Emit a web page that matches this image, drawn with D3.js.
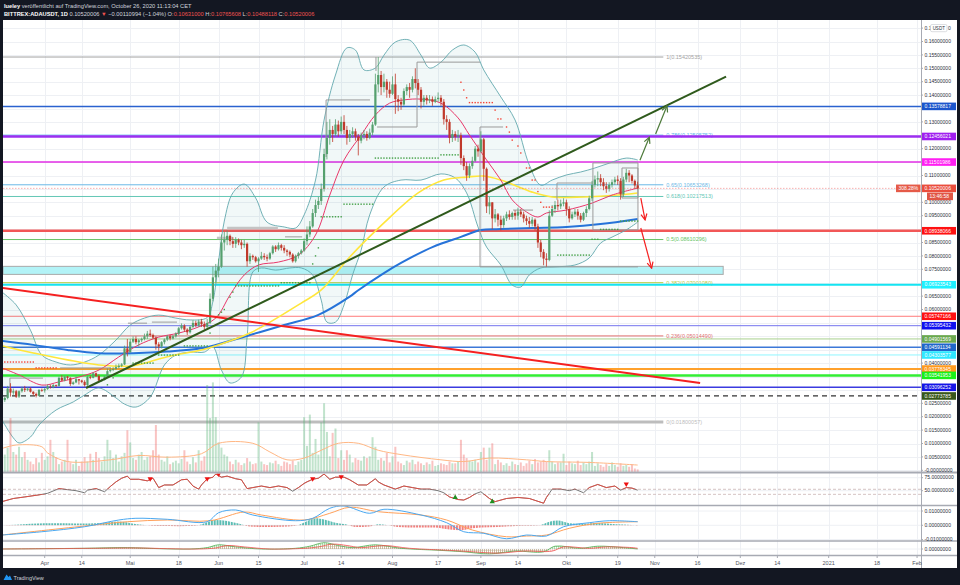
<!DOCTYPE html>
<html lang="de">
<head>
<meta charset="utf-8">
<script src="https://d3js.org/d3.v7.min.js"></script>
<style>
  body { margin: 0; background: #131722; overflow: hidden; }
  svg { display: block; font-family: "Liberation Sans", Arial, sans-serif; }
</style>
</head>
<body>
<script>
// BITTREX:ADAUSDT 1D, candles from Mar 17 2020 (index 0) to Oct 26 2020
const firstDay = Date.UTC(2020, 2, 17)
const firstOpen = 0.0255
const closes = [
  .0262, .0270, .0305, .0290, .0295, .0275, .0295, .0305, .0300, .0305,
  .0293, .0285, .0278, .0300, .0298, .0303, .0313, .0310, .0318, .0315,
  .0345, .0335, .0350, .0345, .0322, .0328, .0340, .0335, .0330, .0318,
  .0348, .0345, .0362, .0352, .0335, .0337, .0350, .0370, .0375, .0378,
  .0385, .0390, .0395, .0455, .0440, .0480, .0490, .0478, .0485, .0490,
  .0500, .0510, .0505, .0495, .0470, .0462, .0478, .0488, .0500, .0492,
  .0500, .0510, .0530, .0540, .0525, .0515, .0535, .0550, .0540, .0555,
  .0545, .0535, .0550, .0640, .0720, .0745, .0760, .0850, .0860, .0875,
  .0855, .0845, .0860, .0850, .0840, .0845, .0780, .0800, .0795, .0780,
  .0790, .0800, .0795, .0790, .0810, .0835, .0825, .0840, .0830, .0820,
  .0815, .0805, .0780, .0800, .0810, .0820, .0855, .0880, .0910, .0960,
  .0990, .1005, .1050, .1180, .1240, .1270, .1255, .1290, .1265, .1300,
  .1270, .1240, .1255, .1265, .1245, .1230, .1250, .1255, .1240, .1260,
  .1290, .1440, .1475, .1430, .1450, .1420, .1405, .1440, .1385, .1375,
  .1365, .1415, .1430, .1420, .1460, .1445, .1420, .1375, .1390, .1380,
  .1385, .1375, .1385, .1390, .1375, .1310, .1300, .1240, .1255, .1245,
  .1250, .1165, .1135, .1100, .1135, .1155, .1200, .1190, .1235, .1125,
  .0985, .1000, .0940, .0955, .0935, .0915, .0940, .0955, .0945, .0960,
  .0950, .0965, .0955, .0940, .0930, .0920, .0935, .0910, .0850, .0815,
  .0790, .0785, .0950, .0975, .0990, .0985, .0995, .1000, .0975, .0940,
  .0955, .0965, .0950, .0935, .0960, .0975, .1015, .1065, .1085, .1090,
  .1075, .1060, .1050, .1065, .1075, .1085, .1080, .1030, .1085, .1110,
  .1100, .1080, .1063, .1052
]
const highs = [
  .0270, .0275, .0315, .0325, .0305, .0300, .0298, .0312, .0315, .0310,
  .0310, .0295, .0290, .0303, .0305, .0308, .0320, .0320, .0322, .0320,
  .0350, .0355, .0352, .0352, .0347, .0332, .0350, .0340, .0338, .0336,
  .0352, .0355, .0365, .0365, .0358, .0342, .0353, .0380, .0385, .0385,
  .0395, .0398, .0400, .0465, .0490, .0490, .0500, .0500, .0490, .0495,
  .0510, .0520, .0525, .0510, .0500, .0478, .0482, .0492, .0505, .0505,
  .0505, .0515, .0535, .0548, .0545, .0530, .0540, .0560, .0558, .0562,
  .0565, .0555, .0565, .0660, .0760, .0770, .0790, .0880, .0890, .0895,
  .0880, .0870, .0870, .0865, .0860, .0860, .0850, .0810, .0805, .0800,
  .0795, .0815, .0810, .0805, .0815, .0840, .0840, .0850, .0845, .0840,
  .0825, .0820, .0810, .0805, .0815, .0825, .0865, .0910, .0930, .0975,
  .1010, .1020, .1070, .1200, .1300, .1310, .1285, .1310, .1305, .1320,
  .1325, .1285, .1270, .1280, .1275, .1255, .1260, .1270, .1265, .1275,
  .1300, .1480, .1542, .1490, .1480, .1460, .1450, .1470, .1480, .1400,
  .1390, .1425, .1440, .1445, .1470, .1500, .1460, .1430, .1400, .1400,
  .1400, .1395, .1395, .1410, .1400, .1385, .1325, .1310, .1270, .1265,
  .1270, .1260, .1175, .1150, .1145, .1170, .1210, .1215, .1265, .1240,
  .1130, .1020, .1000, .0975, .0960, .0950, .0950, .0965, .0970, .0965,
  .0970, .0980, .0975, .0965, .0950, .0945, .0945, .0940, .0920, .0860,
  .0825, .0810, .0970, .0990, .1005, .1010, .1010, .1015, .1010, .0985,
  .0965, .0975, .0975, .0960, .0965, .0985, .1025, .1080, .1100, .1115,
  .1105, .1090, .1075, .1075, .1085, .1095, .1100, .1090, .1095, .1125,
  .1120, .1105, .1085, .1077
]
const lows = [
  .0250, .0255, .0265, .0275, .0282, .0270, .0270, .0290, .0292, .0295,
  .0290, .0278, .0272, .0276, .0293, .0290, .0300, .0305, .0306, .0310,
  .0313, .0332, .0332, .0338, .0315, .0318, .0325, .0320, .0325, .0312,
  .0312, .0340, .0343, .0348, .0330, .0330, .0335, .0348, .0365, .0370,
  .0375, .0380, .0385, .0393, .0425, .0440, .0475, .0470, .0462, .0478,
  .0485, .0490, .0498, .0490, .0450, .0445, .0455, .0470, .0482, .0485,
  .0488, .0495, .0505, .0525, .0518, .0505, .0510, .0530, .0535, .0535,
  .0535, .0525, .0530, .0545, .0630, .0700, .0720, .0755, .0820, .0840,
  .0840, .0830, .0830, .0840, .0825, .0830, .0760, .0770, .0785, .0775,
  .0740, .0785, .0785, .0780, .0785, .0805, .0815, .0820, .0820, .0810,
  .0800, .0795, .0775, .0775, .0790, .0805, .0815, .0840, .0870, .0905,
  .0945, .0975, .0990, .1040, .1160, .1215, .1225, .1245, .1245, .1255,
  .1255, .1215, .1225, .1240, .1230, .1175, .1220, .1235, .1230, .1235,
  .1250, .1285, .1410, .1400, .1410, .1390, .1390, .1400, .1330, .1340,
  .1345, .1360, .1400, .1390, .1410, .1425, .1400, .1350, .1360, .1365,
  .1370, .1360, .1370, .1375, .1360, .1290, .1270, .1220, .1225, .1230,
  .1225, .1140, .1120, .1080, .1090, .1125, .1150, .1170, .1185, .1080,
  .0960, .0955, .0900, .0925, .0910, .0895, .0905, .0930, .0935, .0935,
  .0935, .0935, .0945, .0925, .0915, .0905, .0910, .0895, .0830, .0795,
  .0765, .0760, .0780, .0945, .0960, .0970, .0975, .0985, .0950, .0925,
  .0935, .0945, .0935, .0925, .0930, .0945, .0970, .1005, .1055, .1060,
  .1060, .1045, .1035, .1040, .1055, .1065, .1065, .1010, .1020, .1075,
  .1075, .1070, .1050, .1049
]
const volumes = [
  25, 20, 28, 62, 23, 20, 29, 17, 23, 14,  12, 9, 16, 11, 22, 14, 18, 37, 23, 17,
  9, 12, 14, 37, 11, 9, 14, 7, 12, 17,  12, 21, 14, 23, 16, 12, 18, 37, 25, 16,
  20, 12, 18, 22, 48, 34, 16, 14, 20, 23,  14, 17, 18, 25, 54, 20, 14, 12, 18, 9,
  11, 13, 10, 15, 25, 12, 9, 17, 11, 25,  13, 18, 100, 62, 103, 63, 34, 28, 20, 18,
  12, 9, 14, 11, 8, 10, 16, 12, 9, 10,  57, 12, 9, 8, 11, 10, 13, 9, 7, 12,
  11, 9, 13, 8, 12, 14, 63, 30, 66, 22,  38, 20, 57, 79, 46, 18, 45, 50, 16, 25,
  14, 25, 20, 11, 16, 14, 13, 18, 16, 18,  40, 29, 14, 16, 13, 22, 11, 18, 29, 12,
  10, 8, 13, 11, 14, 9, 12, 10, 8, 11,  9, 13, 7, 8, 10, 9, 8, 12, 10, 10,
  12, 37, 20, 16, 13, 12, 14, 11, 23, 28,  14, 28, 33, 9, 14, 11, 8, 10, 7, 12,
  9, 8, 11, 7, 10, 13, 9, 15, 11, 12,  14, 12, 25, 12, 9, 11, 11, 21, 8, 12,
  10, 9, 13, 8, 11, 9, 12, 23, 7, 10,  8, 6, 9, 7, 11, 8, 6, 10, 7, 8,
  6, 9, 4, 3
]
const volumeMa = [[0,27],[5,31],[14,29],[16,22],[23,12],[38,14],[48,19],[58,17],[70,21],[76,33],[88,33],[94,23],[100,14],[106,16],[112,25],[118,33],[125,33],[132,25],[140,20],[154,14],[162,12],[171,16],[184,14],[191,12],[206,11],[223,8]]

// indicator lines: [day index, price]
const bbUpper = [[0,.0665],[5,.0617],[10,.0523],[14,.0430],[19,.0404],[24,.0393],[29,.0404],[34,.0430],[40,.0486],[45,.0542],[50,.0568],[55,.0579],[61,.0568],[66,.0561],[72,.0570],[74,.0630],[76,.0780],[78,.0930],[81,.1035],[85,.1068],[89,.1016],[93,.0926],[99,.0908],[103,.0904],[106,.0953],[110,.1083],[113,.1307],[117,.1475],[121,.1576],[124,.1568],[127,.1494],[131,.1501],[134,.1549],[138,.1598],[143,.1605],[147,.1549],[150,.1501],[154,.1523],[158,.1568],[162,.1587],[166,.1560],[169,.1494],[175,.1393],[180,.1307],[185,.1139],[189,.1064],[193,.1083],[198,.1102],[203,.1113],[208,.1128],[213,.1146],[219,.1165],[223,.1158]]
const bbLower = [[0,.0188],[4,.0121],[6,.0102],[10,.0124],[13,.0169],[19,.0225],[25,.0255],[29,.0281],[34,.0307],[40,.0270],[43,.0247],[47,.0236],[52,.0273],[57,.0393],[61,.0430],[66,.0441],[71,.0441],[74,.0460],[77,.0374],[80,.0326],[84,.0348],[86,.0497],[88,.0740],[91,.0755],[96,.0747],[101,.0755],[105,.0755],[109,.0729],[112,.0635],[114,.0553],[117,.0553],[120,.0617],[123,.0729],[126,.0822],[129,.0953],[134,.1057],[140,.1083],[147,.1083],[154,.1106],[159,.1091],[163,.1035],[167,.0908],[170,.0833],[175,.0766],[179,.0691],[182,.0684],[185,.0729],[189,.0755],[194,.0759],[201,.0766],[206,.0792],[210,.0848],[214,.0870],[219,.0897],[223,.0926]]
const emaFast = [[0,.0382],[6,.0356],[14,.0318],[20,.0330],[27,.0348],[34,.0374],[41,.0423],[48,.0468],[55,.0497],[62,.0512],[69,.0535],[75,.0568],[80,.0654],[85,.0729],[90,.0766],[97,.0777],[104,.0803],[110,.0878],[115,.1027],[120,.1158],[126,.1251],[131,.1326],[136,.1370],[141,.1382],[147,.1385],[154,.1370],[160,.1315],[164,.1251],[170,.1158],[175,.1083],[179,.1009],[184,.0964],[188,.0945],[191,.0960],[198,.0971],[207,.0997],[214,.1027],[223,.1053]]
const maMid = [[0,.0464],[11,.0438],[23,.0412],[34,.0393],[46,.0390],[58,.0424],[70,.0449],[74,.0461],[87,.0512],[105,.0624],[112,.0673],[122,.0796],[134,.0923],[146,.1035],[155,.1083],[163,.1094],[169,.1098],[175,.1083],[186,.1038],[193,.1020],[204,.1020],[216,.1027],[223,.1035]]
const maSlow = [[0,.0483],[11,.0468],[23,.0449],[34,.0437],[46,.0437],[58,.0443],[70,.0455],[75,.0468],[87,.0505],[99,.0542],[111,.0580],[122,.0648],[125,.0672],[134,.0736],[140,.0774],[151,.0833],[161,.0871],[168,.0897],[175,.0900],[186,.0904],[198,.0908],[210,.0919],[223,.0938]]

// parabolic SAR: flat runs [from, to, price, side] and single dots [day, price, side]; side 1 = below, -1 = above
const sarRuns = [[0,11,.0404,-1],[12,19,.0382,-1],[46,53,.0400,1],[55,62,.0430,1],[64,72,.0464,1],[82,97,.0688,1],[98,108,.0700,1],[112,119,.0946,1],[120,130,.0993,1],[131,153,.1165,1],[154,160,.1177,1],[164,172,.1372,-1],[190,193,.0982,-1],[195,206,.0803,1],[207,209,.0862,1],[210,216,.0899,1],[217,223,.0930,1]]
const sarDots = [[37,.0319,1],[39,.0345,1],[73,.0512,1],[75,.0570,1],[76,.0580,1],[77,.0590,1],[78,.0600,1],[80,.0646,1],[81,.0665,1],[109,.0770,1],[110,.0800,1],[111,.0830,1],[161,.1448,-1],[162,.1419,-1],[163,.1390,-1],[173,.1344,-1],[174,.1311,-1],[175,.1311,-1],[177,.1281,-1],[178,.1262,-1],[179,.1232,-1],[181,.1210,-1],[182,.1184,-1],[184,.1128,-1],[185,.1128,-1],[186,.1083,-1],[187,.1083,-1],[188,.1040,-1],[189,.1000,-1]]

// lower panes
const rsi = [[0,29],[4,35],[8,38],[13,42],[16,45],[20,54],[23,52],[26,50],[29,46],[30,51],[33,54],[36,48],[38,58],[40,67],[42,74],[44,78],[45,72],[48,72],[51,69],[53,74],[55,56],[57,61],[60,61],[63,71],[65,72],[67,59],[69,53],[70,61],[72,73],[74,76],[75,82],[77,76],[79,78],[82,73],[84,71],[86,54],[88,56],[91,59],[94,56],[97,59],[100,56],[102,49],[104,56],[106,64],[107,67],[109,72],[111,74],[113,82],[115,72],[117,76],[120,76],[122,71],[125,61],[128,61],[131,73],[132,67],[134,61],[138,53],[141,59],[144,56],[147,53],[150,53],[153,50],[155,46],[157,38],[160,33],[162,32],[164,37],[166,44],[168,48],[171,35],[173,29],[177,35],[181,37],[185,35],[190,26],[191,37],[193,53],[196,53],[199,50],[201,53],[204,46],[206,56],[209,62],[212,56],[215,59],[217,51],[219,56],[221,55],[223,51]]
const rsiBands = [52.7, 43]
const rsiSells = [[52,73],[72,73],[76,82],[109,73],[119,77],[219,63]]
const rsiBuys = [[159,37],[172,29]]
const macdLine = [[0,-.0068],[14,-.0045],[29,-.0010],[41,.0037],[47,.0049],[58,.0042],[72,.0025],[76,.0088],[82,.0107],[88,.0072],[103,.0032],[109,.0049],[115,.0119],[120,.0135],[129,.0084],[134,.0112],[147,.0072],[156,.0018],[162,-.0045],[169,-.0056],[177,-.0094],[184,-.0068],[191,-.0075],[197,-.0010],[206,.0018],[213,.0032],[223,.0025]]
const macdSignal = [[0,-.0068],[29,-.0005],[44,.0025],[58,.0037],[73,.0032],[85,.0093],[91,.0072],[106,.0037],[115,.0084],[122,.0126],[132,.0095],[147,.0072],[156,.0037],[165,-.0033],[177,-.0080],[184,-.0075],[191,-.0068],[199,-.0021],[209,.0014],[223,.0025]]
const macdHist = [[0,.0001],[5,.0003],[10,.0010],[15,.0014],[22,.0015],[30,.0012],[36,.0018],[41,.0026],[45,.0015],[50,.0002],[55,-.0005],[62,-.0006],[68,-.0003],[71,.0015],[75,.0037],[79,.0030],[83,.0012],[87,-.0008],[92,-.0012],[98,-.0010],[103,-.0003],[106,.0020],[110,.0049],[113,.0040],[117,.0018],[121,.0005],[124,-.0012],[129,-.0008],[132,.0008],[135,.0002],[139,-.0012],[146,-.0016],[152,-.0015],[157,-.0030],[161,-.0034],[165,-.0020],[171,-.0014],[177,-.0008],[183,-.0004],[188,-.0002],[192,.0025],[195,.0033],[199,.0015],[204,.0010],[209,.0018],[213,.0010],[218,.0005],[221,.0002],[223,-.0003]]
const oscA = [[0,0],[15,.0005],[29,.001],[44,.002],[55,.0005],[66,0],[72,.002],[76,.006],[82,.003],[91,0],[103,.001],[108,.004],[113,.009],[118,.005],[123,.002],[131,.006],[140,.001],[154,-.002],[162,-.004],[171,-.007],[180,-.003],[190,-.004],[194,.004],[203,.001],[209,.004],[218,.002],[223,0]]
const oscB = [[0,0],[18,.0005],[32,.001],[47,.0015],[58,.0005],[69,0],[75,.0015],[79,.005],[85,.003],[94,0],[106,.001],[111,.003],[116,.007],[121,.005],[126,.002],[134,.005],[143,.001],[157,-.002],[165,-.004],[174,-.006],[183,-.003],[193,-.003],[197,.003],[206,.001],[212,.003],[221,.002],[223,.001]]

// drawings
const levelPrices = [0.13578817, 0.12456021, 0.11501986, 0.08938066, 0.06923543, 0.05747166, 0.05395432, 0.04901569, 0.04591134, 0.04303577, 0.03778345, 0.03541953, 0.03096252, 0.02773785]
const levelLine = ["#2a62cf", "#9c2ff0", "#e22ee6", "#f25757", "#14e4f2", "#ff7b7b", "#7474ee", "#a8d08d", "#3c78d8", "#8ff6ff", "#ffa12c", "#33ee33", "#3b3be0", "#333333"]
const levelTag = ["#1c56cc", "#a020f0", "#ff1ff2", "#ff1111", "#1ef0ff", "#ff1111", "#1010f0", "#6aa84f", "#1f66c9", "#2ee8ff", "#ff9a1f", "#19f019", "#1414e6", "#38571a"]
const levelWidth = [1.5, 2.5, 1.5, 2.5, 2, 1, 1, 1, 1.5, 1, 2, 2.5, 1.5, 1.2]
const fibLevels = ["1", "0.786", "0.65", "0.618", "0.5", "0.382", "0.236", "0"]
const fibPrices = [0.15420535, 0.12505752, 0.10653268, 0.10217513, 0.08610296, 0.07001080, 0.05014490, 0.01800057]
const fibColors = ["#a3a3a3", "#5ab4ec", "#6bb8e6", "#63c7b5", "#66c466", "#b9cc45", "#e07070", "#bdbdbd"]
const fibEnd = 232
const zoneBox = [0, 253, 0.0731, 0.0761]
const trendUp = [[29.5, .0307], [254, .1469]]
const trendDown = [[0, .0681], [244.9, .0326]]
const arrowsUp = [[[223.8, .1157], [227.1, .1243]], [[229.3, .1255], [233.3, .1360]]]
const arrowsDown = [[[224.1, .1016], [225.6, .0934]], [[224.1, .0904], [227.9, .0754]]]
const rangeLines = [
  [[175.8,.1281],[167.7,.1281],[167.7,.0759],[223.1,.0759]],
  [[179.3,.0971],[186.3,.0971]],
  [[194.7,.1009],[194.7,.1072],[207.3,.1072]],
  [[207.3,.1147],[223.1,.1147],[223.1,.0897],[207.3,.0897],[207.3,.1147]],
  [[217.5,.1128],[223.1,.1128],[223.1,.1016],[217.5,.1016],[217.5,.1128]],
  [[129.1,.1382],[113.7,.1382],[113.7,.1169]],
  [[131.6,.1281],[145.6,.1281],[145.6,.1523],[167.7,.1523]],
  [[131.2,.1542],[131.2,.1490]],
  [[2.8,.0307],[2.8,.0344],[14.4,.0344]],
  [[20.4,.0382],[37.9,.0382]],
  [[44.2,.0549],[50.9,.0549]],
  [[52.6,.0553],[61.4,.0553]],
  [[99.3,.0871],[105.3,.0871]]
]
const rangeBars = [[[75.4,.0867],[81,.0867]], [[79,.0904],[96.8,.0904]]]

const lastPrice = 0.10520006
const timeTicks = [["2020-04-01","Apr"],["2020-04-14","14"],["2020-05-01","Mai"],["2020-05-18","18"],["2020-06-01","Jun"],["2020-06-15","15"],["2020-07-01","Jul"],["2020-07-14","14"],["2020-08-01","Aug"],["2020-08-17","17"],["2020-09-01","Sep"],["2020-09-14","14"],["2020-10-01","Okt"],["2020-10-19","19"],["2020-11-01","Nov"],["2020-11-16","16"],["2020-12-01","Dez"],["2020-12-14","14"],["2021-01-01","2021"],["2021-01-18","18"],["2021-02-01","Feb"]]
const priceTicks = d3.range(0, 0.1651, 0.005)

// ---- layout ----
const W = 960, H = 585
const L = 3, R = 921
const fmt = d3.format(".8f")

const x = d3.scaleUtc()
  .domain([new Date("2020-04-01T00:00:00Z"), new Date("2020-10-01T00:00:00Z")])
  .range([44.7, 566.4])
const xd = d => x(new Date(firstDay + d * 864e5))
const y = d3.scaleLinear().domain([0, 0.16]).range([470.3, 41.5])
const yv = d3.scaleLinear().domain([0, 100]).range([472, 385])
const yr = d3.scaleLinear().domain([50, 75]).range([490.7, 477.7])
const ym = d3.scaleLinear().domain([0, 0.01]).range([525.3, 511])
const yo = d3.scaleLinear().domain([0, 0.01]).range([549, 542])

const svg = d3.select("body").append("svg").attr("width", W).attr("height", H)
svg.append("rect").attr("width", W).attr("height", H).attr("fill", "#131722")
svg.append("rect").attr("x", L).attr("y", 20).attr("width", 957 - L).attr("height", 548).attr("fill", "#fff")

const defs = svg.append("defs")
function clip(id, y0, y1) {
  defs.append("clipPath").attr("id", id).append("rect")
    .attr("x", L).attr("y", y0).attr("width", R - L).attr("height", y1 - y0)
  return "url(#" + id + ")"
}
const mainClip = clip("cmain", 20, 472)
const rsiClip = clip("crsi", 473.5, 505)
const macdClip = clip("cmacd", 506, 540.5)
const oscClip = clip("cosc", 541.5, 555)

// grid
const grid = svg.append("g").attr("stroke", "#eef0f4").attr("stroke-width", 1)
timeTicks.forEach(t => {
  const xx = Math.round(x(new Date(t[0] + "T00:00:00Z"))) + 0.5
  grid.append("line").attr("x1", xx).attr("x2", xx).attr("y1", 20).attr("y2", 555)
})
priceTicks.forEach(p => grid.append("line").attr("x1", L).attr("x2", R)
  .attr("y1", Math.round(y(p)) + 0.5).attr("y2", Math.round(y(p)) + 0.5))
;[yr(75), yr(50), ym(0.01), ym(0), ym(-0.01), yo(0)].forEach(v => grid.append("line")
  .attr("x1", L).attr("x2", R).attr("y1", v).attr("y2", v))

// ---- main pane ----
const main = svg.append("g").attr("clip-path", mainClip)
const curve = d3.curveCatmullRom.alpha(0.5)
const line = d3.line().x(d => xd(d[0])).y(d => y(d[1])).curve(curve)

// fib retracement
fibPrices.forEach((p, i) => {
  main.append("line").attr("x1", L).attr("x2", xd(fibEnd)).attr("y1", y(p)).attr("y2", y(p))
    .attr("stroke", fibColors[i]).attr("stroke-width", i === 7 ? 3 : 1)
  main.append("text").attr("x", xd(fibEnd) + 3).attr("y", y(p)).attr("dy", "0.35em")
    .attr("font-size", 5.5).attr("fill", fibColors[i])
    .text(fibLevels[i] + "(" + fmt(p) + ")")
})

// zone box
main.append("rect").attr("x", L).attr("y", y(zoneBox[3]))
  .attr("width", xd(zoneBox[1]) - L).attr("height", y(zoneBox[2]) - y(zoneBox[3]))
  .attr("fill", "#b3f3f7").attr("stroke", "#a9a9a9").attr("stroke-width", 1)

// horizontal levels
levelPrices.forEach((p, i) => {
  main.append("line").attr("x1", L).attr("x2", R).attr("y1", y(p)).attr("y2", y(p))
    .attr("stroke", levelLine[i]).attr("stroke-width", levelWidth[i])
    .attr("stroke-dasharray", i === 13 ? "5,4" : null)
})

// bollinger band
const revLine = d3.line().x(d => xd(d[0])).y(d => y(d[1])).curve(curve)
main.append("path")
  .attr("d", line(bbUpper) + revLine(bbLower.slice().reverse()).replace(/^M/, "L") + "Z")
  .attr("fill", "rgba(0,128,128,0.055)")
;[bbUpper, bbLower].forEach(b => main.append("path").attr("d", line(b))
  .attr("fill", "none").attr("stroke", "#62a8ae").attr("stroke-width", 0.9))

// volume
const candles = closes.map((c, i) => ({ d: i, o: i ? closes[i - 1] : firstOpen, h: highs[i], l: lows[i], c: c, v: volumes[i] }))
main.selectAll("rect.vol").data(candles).enter().append("rect")
  .attr("x", d => xd(d.d) - 1).attr("width", 2)
  .attr("y", d => yv(d.v)).attr("height", d => yv(0) - yv(d.v))
  .attr("fill", d => d.c >= d.o ? "rgba(76,175,110,0.35)" : "rgba(239,83,80,0.35)")
main.append("path").attr("d", d3.line().x(d => xd(d[0])).y(d => yv(d[1])).curve(curve)(volumeMa))
  .attr("fill", "none").attr("stroke", "#ffb784").attr("stroke-width", 1)

// moving averages
main.append("path").attr("d", line(maSlow)).attr("fill", "none").attr("stroke", "#2673d9").attr("stroke-width", 2)
main.append("path").attr("d", line(maMid)).attr("fill", "none").attr("stroke", "#ffe63b").attr("stroke-width", 1.6)
main.append("path").attr("d", line(emaFast)).attr("fill", "none").attr("stroke", "#e8386a").attr("stroke-width", 1)

// gray range drawings
rangeLines.forEach(r => main.append("path").attr("d", d3.line().x(d => xd(d[0])).y(d => y(d[1]))(r))
  .attr("fill", "none").attr("stroke", "#9a9a9a").attr("stroke-width", 1))
rangeBars.forEach(r => main.append("path").attr("d", d3.line().x(d => xd(d[0])).y(d => y(d[1]))(r))
  .attr("fill", "none").attr("stroke", "#c4c4c4").attr("stroke-width", 2.5))

// candles
const up = "#55a06e", down = "#c0392b"
const cg = main.append("g")
cg.selectAll("line").data(candles).enter().append("line")
  .attr("x1", d => xd(d.d)).attr("x2", d => xd(d.d))
  .attr("y1", d => y(Math.max(d.h, d.o, d.c))).attr("y2", d => y(Math.min(d.l, d.o, d.c)))
  .attr("stroke", d => d.c >= d.o ? up : down).attr("stroke-width", 0.8)
cg.selectAll("rect").data(candles).enter().append("rect")
  .attr("x", d => xd(d.d) - 1.1).attr("width", 2.2)
  .attr("y", d => y(Math.max(d.o, d.c)))
  .attr("height", d => Math.max(0.8, Math.abs(y(d.o) - y(d.c))))
  .attr("fill", d => d.c >= d.o ? up : down)

// parabolic SAR
const sarG = main.append("g")
const sarColor = s => s > 0 ? "#43a047" : "#f44336"
sarRuns.forEach(r => d3.range(r[0], r[1] + 1).forEach(d => sarG.append("rect")
  .attr("x", xd(d) - 0.7).attr("y", y(r[2]) - 0.7).attr("width", 1.4).attr("height", 1.4).attr("fill", sarColor(r[3]))))
sarDots.forEach(s => sarG.append("rect")
  .attr("x", xd(s[0]) - 0.7).attr("y", y(s[1]) - 0.7).attr("width", 1.4).attr("height", 1.4).attr("fill", sarColor(s[2])))

// last price line
main.append("line").attr("x1", L).attr("x2", R).attr("y1", y(lastPrice)).attr("y2", y(lastPrice))
  .attr("stroke", "#ef5350").attr("stroke-opacity", 0.45).attr("stroke-dasharray", "1.5,1.5")

// trend lines and arrows
const seg = d3.line().x(d => xd(d[0])).y(d => y(d[1]))
main.append("path").attr("d", seg(trendDown)).attr("stroke", "#f52020").attr("stroke-width", 2).attr("fill", "none")
main.append("path").attr("d", seg(trendUp)).attr("stroke", "#2f5a1c").attr("stroke-width", 2).attr("fill", "none")
;[["head-g", "#4d7a3a"], ["head-r", "#f52020"]].forEach(([id, c]) => defs.append("marker").attr("id", id)
  .attr("viewBox", "0 0 8 8").attr("refX", 7).attr("refY", 4).attr("markerWidth", 8).attr("markerHeight", 8)
  .attr("markerUnits", "userSpaceOnUse").attr("orient", "auto")
  .append("path").attr("d", "M1,1 L7,4 L1,7").attr("fill", "none").attr("stroke", c).attr("stroke-width", 1.2))
arrowsUp.forEach(a => main.append("path").attr("d", seg(a)).attr("stroke", "#4d7a3a").attr("stroke-width", 1.2)
  .attr("fill", "none").attr("marker-end", "url(#head-g)"))
arrowsDown.forEach(a => main.append("path").attr("d", seg(a)).attr("stroke", "#f52020").attr("stroke-width", 1.2)
  .attr("fill", "none").attr("marker-end", "url(#head-r)"))

// ---- RSI pane ----
const rsiG = svg.append("g").attr("clip-path", rsiClip)
rsiBands.forEach(b => rsiG.append("line").attr("x1", L).attr("x2", R).attr("y1", yr(b)).attr("y2", yr(b))
  .attr("stroke", "#c9b4b4").attr("stroke-dasharray", "3,2").attr("stroke-width", 0.8))
const rsiLine = d3.line().x(d => xd(d[0])).y(d => yr(d[1])).curve(d3.curveLinear)
const outside = defs.append("clipPath").attr("id", "rsiout")
outside.append("rect").attr("x", L).attr("y", 470).attr("width", R - L).attr("height", yr(rsiBands[0]) - 470)
outside.append("rect").attr("x", L).attr("y", yr(rsiBands[1])).attr("width", R - L).attr("height", 510 - yr(rsiBands[1]))
rsiG.append("path").attr("d", rsiLine(rsi)).attr("fill", "none").attr("stroke", "#555").attr("stroke-width", 0.8)
rsiG.append("g").attr("clip-path", "url(#rsiout)").append("path").attr("d", rsiLine(rsi))
  .attr("fill", "none").attr("stroke", "#f44336").attr("stroke-width", 0.8)
const tri = d3.symbol().type(d3.symbolTriangle).size(12)
rsiSells.forEach(s => rsiG.append("path").attr("d", tri())
  .attr("transform", "translate(" + xd(s[0]) + "," + yr(s[1]) + ") rotate(180)").attr("fill", "#f01010"))
rsiBuys.forEach(s => rsiG.append("path").attr("d", tri())
  .attr("transform", "translate(" + xd(s[0]) + "," + yr(s[1]) + ")").attr("fill", "#1f8f1f"))

// ---- MACD pane ----
const macdG = svg.append("g").attr("clip-path", macdClip)
const hp = defs.append("pattern").attr("id", "hpos").attr("patternUnits", "userSpaceOnUse")
  .attr("width", 2.85).attr("height", 40)
hp.append("rect").attr("width", 2).attr("height", 40).attr("fill", "#26a69a").attr("fill-opacity", 0.75)
const hn = defs.append("pattern").attr("id", "hneg").attr("patternUnits", "userSpaceOnUse")
  .attr("width", 2.85).attr("height", 40)
hn.append("rect").attr("width", 2).attr("height", 40).attr("fill", "#ef5350").attr("fill-opacity", 0.75)
const histArea = d3.area().x(d => xd(d[0])).y0(ym(0)).y1(d => ym(d[1])).curve(d3.curveMonotoneX)
defs.append("clipPath").attr("id", "hup").append("rect").attr("x", L).attr("y", 500).attr("width", R - L).attr("height", ym(0) - 500)
defs.append("clipPath").attr("id", "hdn").append("rect").attr("x", L).attr("y", ym(0)).attr("width", R - L).attr("height", 20)
macdG.append("path").attr("d", histArea(macdHist)).attr("fill", "url(#hpos)").attr("clip-path", "url(#hup)")
macdG.append("path").attr("d", histArea(macdHist)).attr("fill", "url(#hneg)").attr("clip-path", "url(#hdn)")
const mline = d3.line().x(d => xd(d[0])).y(d => ym(d[1])).curve(curve)
macdG.append("path").attr("d", mline(macdSignal)).attr("fill", "none").attr("stroke", "#ffa05a").attr("stroke-width", 1)
macdG.append("path").attr("d", mline(macdLine)).attr("fill", "none").attr("stroke", "#4aa8f0").attr("stroke-width", 1)

// ---- oscillator pane ----
const oscG = svg.append("g").attr("clip-path", oscClip)
;[["og", "#6cc06c"], ["or", "#f28a8a"]].forEach(([id, c]) => {
  const p = defs.append("pattern").attr("id", id).attr("patternUnits", "userSpaceOnUse").attr("width", 2).attr("height", 2)
  p.append("rect").attr("width", 0.5).attr("height", 2).attr("fill", c)
  p.append("rect").attr("width", 2).attr("height", 0.4).attr("fill", c).attr("fill-opacity", 0.5)
})
const oArea = d3.area().x(d => xd(d[0])).y0(yo(0)).y1(d => yo(d[1])).curve(curve)
oscG.append("path").attr("d", oArea(oscA)).attr("fill", "url(#og)")
oscG.append("path").attr("d", oArea(oscB)).attr("fill", "url(#or)").attr("fill-opacity", 0.8)
const oLine = d3.line().x(d => xd(d[0])).y(d => yo(d[1])).curve(curve)
oscG.append("path").attr("d", oLine(oscA)).attr("fill", "none").attr("stroke", "#4caf50").attr("stroke-width", 0.8)
oscG.append("path").attr("d", oLine(oscB)).attr("fill", "none").attr("stroke", "#ef5350").attr("stroke-width", 0.8)

// pane separators
;[[472.5, 2], [505.5, 1.3], [541, 1.3], [555.5, 1.3]].forEach(([v, w]) => svg.append("line")
  .attr("x1", L).attr("x2", 957).attr("y1", v).attr("y2", v).attr("stroke", "#a7aab3").attr("stroke-width", w))

// ---- price axis ----
const ax = svg.append("g").attr("font-size", 5).attr("fill", "#2a2e39")
ax.append("line").attr("x1", R + 0.5).attr("x2", R + 0.5).attr("y1", 20).attr("y2", 568).attr("stroke", "#a7aab3")
const tagYs = levelPrices.map(p => y(p)).concat([y(lastPrice), y(lastPrice) + 8])
const topTick = priceTicks[priceTicks.length - 1]
priceTicks.forEach(p => {
  const yy = y(p)
  ax.append("line").attr("x1", R).attr("x2", R + 2).attr("y1", yy).attr("y2", yy).attr("stroke", "#a7aab3")
  if (tagYs.some(t => Math.abs(t - yy) < 5.5)) return
  if (p === topTick) {
    // the currency badge sits over the middle of the top label
    const s = fmt(p)
    ax.append("text").attr("x", R + 3.5).attr("y", yy).attr("dy", "0.35em").text(s.slice(0, 3))
    ax.append("text").attr("x", 948).attr("y", yy).attr("dy", "0.35em").text(s.slice(-1))
    return
  }
  ax.append("text").attr("x", R + 3.5).attr("y", yy).attr("dy", "0.35em").text(p === 0 ? "-0.00000000" : fmt(p))
})
;[[yr(75), "75.00000000"], [yr(50), "50.00000000"], [ym(0.01), "0.01000000"], [ym(0), "0.00000000"],
  [ym(-0.01), "-0.01000000"], [yo(0), "0.00000000"]].forEach(([yy, t]) => {
  ax.append("line").attr("x1", R).attr("x2", R + 2).attr("y1", yy).attr("y2", yy).attr("stroke", "#a7aab3")
  ax.append("text").attr("x", R + 3.5).attr("y", yy).attr("dy", "0.35em").text(t)
})
// USDT badge
ax.append("rect").attr("x", 930.5).attr("y", y(topTick) - 3.6).attr("width", 16.5).attr("height", 7.2).attr("rx", 1.5)
  .attr("fill", "#fff").attr("stroke", "#c5c7cc").attr("stroke-width", 0.6)
ax.append("text").attr("x", 938.75).attr("y", y(topTick)).attr("dy", "0.35em").attr("text-anchor", "middle")
  .attr("font-size", 4.5).text("USDT")
// colored level tags
function tag(yy, label, bg, xx, w, fg) {
  ax.append("rect").attr("x", xx).attr("y", yy - 3.8).attr("width", w).attr("height", 7.6).attr("fill", bg)
  ax.append("text").attr("x", xx + 2.5).attr("y", yy).attr("dy", "0.35em").attr("fill", fg || "#fff").text(label)
}
levelPrices.forEach((p, i) => tag(y(p), fmt(p), levelTag[i], R + 1, 34))
tag(y(lastPrice), fmt(lastPrice), "#ea4d3d", R + 1, 34)
tag(y(lastPrice), "308.28%", "#e55a48", 896, 24.5)
tag(y(lastPrice) + 8, "13:46:58", "#e05545", 927, 26)

// ---- time axis ----
const tx = svg.append("g").attr("font-size", 5.5).attr("fill", "#50535e").attr("text-anchor", "middle")
timeTicks.forEach(t => {
  const xx = x(new Date(t[0] + "T00:00:00Z"))
  tx.append("line").attr("x1", xx).attr("x2", xx).attr("y1", 556).attr("y2", 558).attr("stroke", "#a7aab3")
  tx.append("text").attr("x", xx).attr("y", 564.5).text(t[1])
})

// ---- header / footer ----
const hd = svg.append("g").attr("font-size", 5.7).attr("fill", "#d1d4dc")
const l1 = hd.append("text").attr("x", 4).attr("y", 7.5)
l1.append("tspan").attr("font-weight", "bold").attr("fill", "#fff").text("lueley")
l1.append("tspan").text(" veröffentlicht auf TradingView.com, October 26, 2020 11:13:04 CET")
const l2 = hd.append("text").attr("x", 4).attr("y", 16)
l2.append("tspan").attr("font-weight", "bold").attr("fill", "#fff").text("BITTREX:ADAUSDT, 1D")
l2.append("tspan").text(" 0.10520006 ")
l2.append("tspan").attr("fill", "#ef5350").text("▼")
l2.append("tspan").text(" −0.00110994 (−1.04%) O:")
l2.append("tspan").attr("fill", "#ef5350").text("0.10631000")
l2.append("tspan").text(" H:")
l2.append("tspan").attr("fill", "#ef5350").text("0.10765608")
l2.append("tspan").text(" L:")
l2.append("tspan").attr("fill", "#ef5350").text("0.10488118")
l2.append("tspan").text(" C:")
l2.append("tspan").attr("fill", "#ef5350").text("0.10520006")

const ft = svg.append("g")
ft.append("path").attr("d", "M3.5,580 L6.5,574.5 L8.5,577 L10,575.5 L12,580 Z").attr("fill", "#2196f3")
ft.append("text").attr("x", 13.5).attr("y", 580).attr("font-size", 5.5).attr("fill", "#d1d4dc").text("TradingView")
</script>
</body>
</html>
